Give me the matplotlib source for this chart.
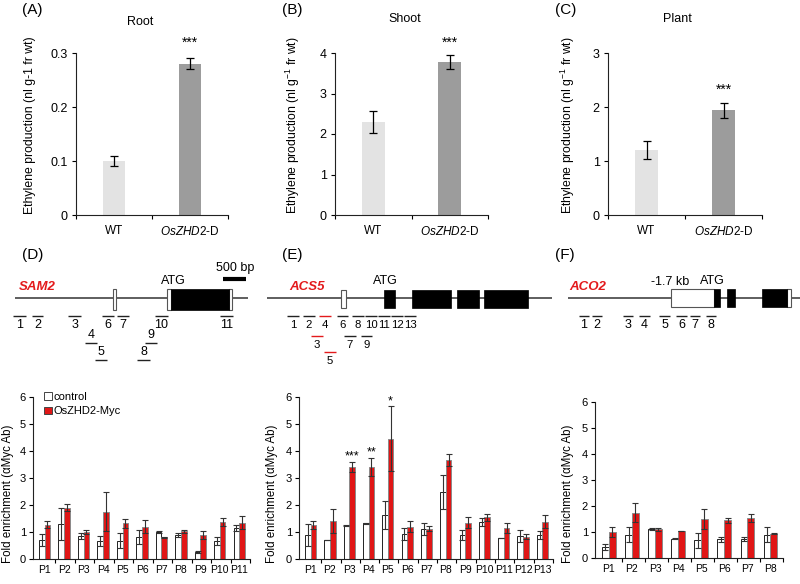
import matplotlib.pyplot as plt
from matplotlib.patches import Rectangle
import numpy as np

plt.rcParams['font.family'] = ['Liberation Sans', 'DejaVu Sans']
plt.rcParams['mathtext.fontset'] = 'custom'
plt.rcParams['mathtext.rm'] = 'Liberation Sans'
plt.rcParams['mathtext.it'] = 'Liberation Sans:italic'
plt.rcParams['mathtext.default'] = 'regular'

W, H = 800, 584

# ethylene production (A-C)
genotypes = ['WT', r'$\it{OsZHD2}$-D']
root_mean = [0.10, 0.28]
root_err = [0.01, 0.01]
shoot_mean = [2.30, 3.78]
shoot_err = [0.27, 0.17]
plant_mean = [1.20, 1.94]
plant_err = [0.17, 0.14]

# ChIP enrichment (D-F)
sam2_labels = ['P%d' % i for i in range(1, 12)]
sam2_ctrl = [0.70, 1.30, 0.85, 0.68, 0.68, 0.82, 1.00, 0.88, 0.25, 0.68, 1.15]
sam2_ctrl_err = [0.23, 0.58, 0.10, 0.18, 0.28, 0.25, 0.02, 0.08, 0.03, 0.15, 0.10]
sam2_myc = [1.27, 1.90, 1.00, 1.75, 1.32, 1.20, 0.80, 1.02, 0.90, 1.37, 1.35]
sam2_myc_err = [0.13, 0.12, 0.07, 0.73, 0.17, 0.23, 0.03, 0.07, 0.15, 0.15, 0.23]

acs5_labels = ['P%d' % i for i in range(1, 14)]
acs5_ctrl = [0.90, 0.70, 1.23, 1.32, 1.62, 0.92, 1.12, 2.48, 0.88, 1.38, 0.78, 0.85, 0.90]
acs5_ctrl_err = [0.40, 0.01, 0.02, 0.02, 0.52, 0.22, 0.22, 0.62, 0.18, 0.15, 0.01, 0.23, 0.15]
acs5_myc = [1.25, 1.40, 3.42, 3.42, 4.45, 1.20, 1.12, 3.67, 1.35, 1.55, 1.15, 0.83, 1.38]
acs5_myc_err = [0.15, 0.45, 0.18, 0.33, 1.20, 0.20, 0.10, 0.22, 0.20, 0.13, 0.18, 0.08, 0.25]
acs5_stars = {2: '***', 3: '**', 4: '*'}

aco2_labels = ['P%d' % i for i in range(1, 9)]
aco2_ctrl = [0.42, 0.90, 1.13, 0.75, 0.68, 0.72, 0.72, 0.90]
aco2_ctrl_err = [0.13, 0.30, 0.04, 0.03, 0.30, 0.10, 0.07, 0.30]
aco2_myc = [1.00, 1.75, 1.10, 1.03, 1.50, 1.45, 1.53, 0.93]
aco2_myc_err = [0.20, 0.38, 0.05, 0.01, 0.37, 0.10, 0.15, 0.02]

# gene schematics (figure pixel units)
sam2_span = (15, 248)
sam2_white = [(113, 116), (167, 171), (229, 232)]
sam2_black = [(171, 229)]
sam2_primer_id = ['1', '2', '3', '6', '7', '10', '11', '4', '9', '5', '8']
sam2_primer_x0 = [13, 32, 68, 102, 117, 155, 220, 85, 145, 95, 137]
sam2_primer_x1 = [26, 43, 81, 114, 129, 168, 233, 97, 157, 107, 150]
sam2_primer_row = [0, 0, 0, 0, 0, 0, 0, 1, 1, 2, 2]

acs5_span = (267, 552)
acs5_white = [(341, 346)]
acs5_black = [(384, 395), (412, 451), (457, 479), (484, 528)]
acs5_primer_id = ['1', '2', '4', '6', '8', '10', '11', '12', '13', '3', '7', '9', '5']
acs5_primer_x0 = [287, 303, 319, 337, 352, 365, 378, 391, 404, 311, 344, 361, 324]
acs5_primer_x1 = [299, 315, 331, 348, 364, 377, 390, 403, 416, 323, 356, 372, 336]
acs5_primer_row = [0, 0, 0, 0, 0, 0, 0, 0, 0, 1, 1, 1, 2]
acs5_primer_red = ['3', '4', '5']

aco2_span = (568, 800)
aco2_white = [(671, 714), (787, 791)]
aco2_black = [(714, 720), (727, 735), (762, 787)]
aco2_primer_id = ['1', '2', '3', '4', '5', '6', '7', '8']
aco2_primer_x0 = [579, 592, 623, 639, 659, 676, 690, 706]
aco2_primer_x1 = [589, 602, 633, 650, 670, 687, 700, 716]
aco2_primer_row = [0] * 8

fig = plt.figure(figsize=(8, 5.84), dpi=100)


def px_axes(l, t, r, b):
    return fig.add_axes([l / W, 1 - b / H, (r - l) / W, (b - t) / H])


def style_spines(ax):
    for s in ['top', 'right']:
        ax.spines[s].set_visible(False)
    for s in ['left', 'bottom']:
        ax.spines[s].set_linewidth(0.8)
        ax.spines[s].set_color('#222222')


def ethylene(ax, mean, err, ymax, ticks, ticklabels, star_y):
    x = np.arange(len(mean))
    ax.bar(x, mean, width=0.3, color=['#e3e3e3', '#9c9c9c'])
    ax.errorbar(x, mean, yerr=err, fmt='none', ecolor='black',
                elinewidth=0.9, capsize=3, capthick=0.9)
    ax.set_xlim(-0.5, 1.5)
    ax.set_ylim(0, ymax)
    ax.set_yticks(ticks)
    ax.set_yticklabels(ticklabels)
    ax.set_xticks(x)
    ax.set_xticklabels(genotypes)
    ax.set_xticks([-0.5, 0.5, 1.5], minor=True)
    ax.tick_params(axis='x', which='major', length=0, pad=7, labelsize=8.5)
    ax.tick_params(axis='x', which='minor', length=3, width=0.8)
    ax.tick_params(axis='y', length=3, width=0.8, labelsize=9, pad=3)
    ax.text(1, star_y, '***', ha='center', va='center', fontsize=10, clip_on=False)
    style_spines(ax)


axA = px_axes(76, 53, 228, 215)
ethylene(axA, root_mean, root_err, 0.3, [0, 0.1, 0.2, 0.3], ['0', '0.1', '0.2', '0.3'], 0.318)
axB = px_axes(335, 53, 488, 215)
ethylene(axB, shoot_mean, shoot_err, 4, [0, 1, 2, 3, 4], ['0', '1', '2', '3', '4'], 4.25)
axC = px_axes(608, 53, 762, 215)
ethylene(axC, plant_mean, plant_err, 3, [0, 1, 2, 3], ['0', '1', '2', '3'], 2.31)

fig.text(140 / W, 1 - 22 / H, 'Root', ha='center', va='center', fontsize=9)
fig.text(405 / W, 1 - 19 / H, 'Shoot', ha='center', va='center', fontsize=9)
fig.text(677 / W, 1 - 19 / H, 'Plant', ha='center', va='center', fontsize=9)

fig.text(30 / W, 1 - 125 / H, 'Ethylene production (nl g-1 fr wt)', rotation=90,
         ha='center', va='center', fontsize=8.8)
fig.text(293 / W, 1 - 125 / H, r'Ethylene production (nl g$^{-1}$ fr wt)', rotation=90,
         ha='center', va='center', fontsize=8.8)
fig.text(568 / W, 1 - 125 / H, r'Ethylene production (nl g$^{-1}$ fr wt)', rotation=90,
         ha='center', va='center', fontsize=8.8)


def chip(ax, labels, ctrl, ctrl_err, myc, myc_err):
    n = len(labels)
    x = np.arange(n)
    w = 0.29
    ax.bar(x - w / 2, ctrl, width=w, color='white', edgecolor='#222222', linewidth=0.7)
    ax.bar(x + w / 2, myc, width=w, color='#e01616', edgecolor='#8a8a8a', linewidth=0.7)
    ax.errorbar(x - w / 2, ctrl, yerr=ctrl_err, fmt='none', ecolor='#333333',
                elinewidth=0.8, capsize=2.5, capthick=0.8)
    ax.errorbar(x + w / 2, myc, yerr=myc_err, fmt='none', ecolor='#333333',
                elinewidth=0.8, capsize=2.5, capthick=0.8)
    ax.set_xlim(-0.6, n - 0.45)
    ax.set_ylim(0, 6)
    ax.set_yticks(range(7))
    ax.set_xticks(x)
    ax.set_xticklabels(labels)
    ax.set_xticks(np.arange(n) + 0.55, minor=True)
    ax.tick_params(axis='x', which='major', length=0, pad=4, labelsize=7.5)
    ax.tick_params(axis='x', which='minor', length=3, width=0.8)
    ax.tick_params(axis='y', length=3, width=0.8, labelsize=8, pad=2)
    style_spines(ax)


axD = px_axes(33, 397, 250, 559)
chip(axD, sam2_labels, sam2_ctrl, sam2_ctrl_err, sam2_myc, sam2_myc_err)
axE = px_axes(299, 397, 553, 559)
chip(axE, acs5_labels, acs5_ctrl, acs5_ctrl_err, acs5_myc, acs5_myc_err)
for i, s in acs5_stars.items():
    top = acs5_myc[i] + acs5_myc_err[i]
    axE.text(i + 0.145, top + 0.2, s, ha='center', va='center', fontsize=9)
axF = px_axes(595, 402, 783, 558)
chip(axF, aco2_labels, aco2_ctrl, aco2_ctrl_err, aco2_myc, aco2_myc_err)

for xl in [8, 272, 568]:
    fig.text(xl / W, 1 - 494 / H, 'Fold enrichment (αMyc Ab)', rotation=90,
             ha='center', va='center', fontsize=8.3)

handles = [Rectangle((0, 0), 1, 1, facecolor='white', edgecolor='#444444', linewidth=0.7),
           Rectangle((0, 0), 1, 1, facecolor='#e01616', edgecolor='#444444', linewidth=0.7)]
axD.legend(handles, ['control', 'OsZHD2-Myc'], loc='upper left',
           bbox_to_anchor=(44 / W, 1 - 392 / H), bbox_transform=fig.transFigure,
           frameon=False, fontsize=8, handlelength=0.7, handleheight=0.7,
           handletextpad=0.2, labelspacing=0.4, borderpad=0, borderaxespad=0)

# gene schematics in pixel coordinates
ov = fig.add_axes([0, 0, 1, 1])
ov.set_xlim(0, W)
ov.set_ylim(H, 0)
ov.axis('off')
ov.patch.set_alpha(0)

gene_y = 298


def gene(span, white, black, box_top, box_bot, line_color='#333333'):
    ov.plot(span, [gene_y, gene_y], color=line_color, lw=1.1, solid_capstyle='butt')
    for x0, x1 in white:
        ov.add_patch(Rectangle((x0, box_top), x1 - x0, box_bot - box_top,
                               facecolor='white', edgecolor='#555555', lw=0.8, zorder=3))
    for x0, x1 in black:
        ov.add_patch(Rectangle((x0, box_top), x1 - x0, box_bot - box_top,
                               facecolor='black', edgecolor='black', lw=0.5, zorder=3))


def primers(ids, x0s, x1s, rows, row_line, row_label, red=(), size=9):
    for pid, a, b, r in zip(ids, x0s, x1s, rows):
        c = '#e31a1c' if pid in red else '#222222'
        ov.plot([a, b], [row_line[r], row_line[r]], color=c, lw=1.0, solid_capstyle='butt')
        ov.text((a + b) / 2, row_label[r], pid, ha='center', va='center', fontsize=size)


gene(sam2_span, sam2_white, sam2_black, 289, 310)
primers(sam2_primer_id, sam2_primer_x0, sam2_primer_x1, sam2_primer_row,
        [316, 343, 360], [325, 335, 352])
ov.text(19, 287, 'SAM2', color='#e31a1c', fontsize=9.5, fontweight='bold',
        fontstyle='italic', ha='left', va='center')
ov.text(173, 281, 'ATG', fontsize=9, ha='center', va='center')
ov.text(235, 268, '500 bp', fontsize=9, ha='center', va='center')
ov.plot([223, 246], [279, 279], color='black', lw=3, solid_capstyle='butt')

gene(acs5_span, acs5_white, acs5_black, 290, 308)
primers(acs5_primer_id, acs5_primer_x0, acs5_primer_x1, acs5_primer_row,
        [316, 336, 352], [325, 345, 361], red=acs5_primer_red, size=8.2)
ov.text(289, 287, 'ACS5', color='#e31a1c', fontsize=9.5, fontweight='bold',
        fontstyle='italic', ha='left', va='center')
ov.text(385, 281, 'ATG', fontsize=9, ha='center', va='center')

gene(aco2_span, aco2_white, aco2_black, 289, 307)
primers(aco2_primer_id, aco2_primer_x0, aco2_primer_x1, aco2_primer_row,
        [316], [325])
ov.text(569, 287, 'ACO2', color='#e31a1c', fontsize=9.5, fontweight='bold',
        fontstyle='italic', ha='left', va='center')
ov.text(670, 282, '-1.7 kb', fontsize=9, ha='center', va='center')
ov.text(712, 281, 'ATG', fontsize=9, ha='center', va='center')

for lab, x, y in [('(A)', 22, 10), ('(B)', 282, 10), ('(C)', 555, 10),
                  ('(D)', 22, 255), ('(E)', 282, 255), ('(F)', 555, 255)]:
    fig.text(x / W, 1 - y / H, lab, ha='left', va='center', fontsize=11)

fig.savefig('out.png', dpi=100)
